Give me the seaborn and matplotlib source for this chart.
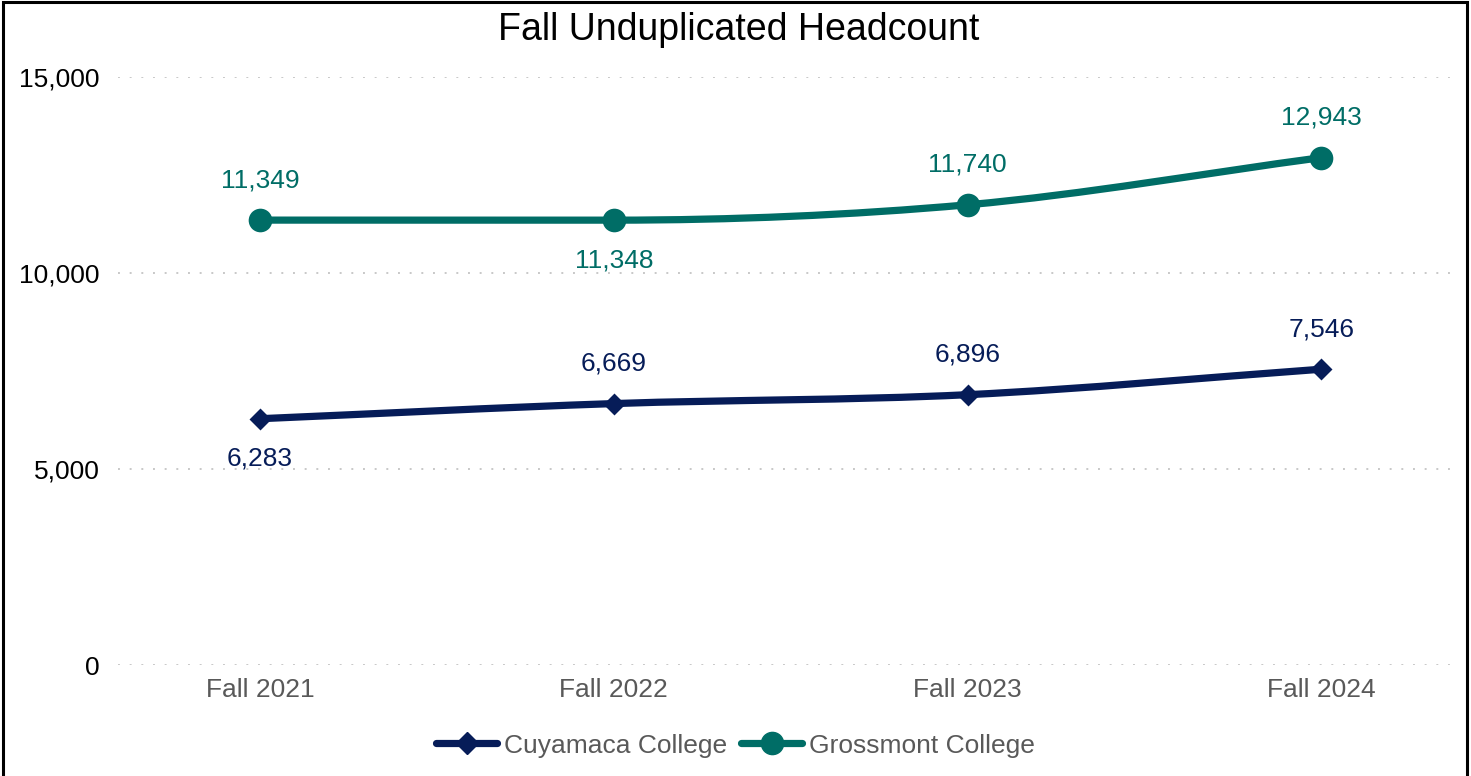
import numpy as np
import matplotlib
matplotlib.use("Agg")
import matplotlib.pyplot as plt
import seaborn as sns
from matplotlib.path import Path
from matplotlib.patches import PathPatch, Rectangle
from matplotlib.lines import Line2D
from matplotlib.ticker import FuncFormatter

# -- data --
years = ["Fall 2021", "Fall 2022", "Fall 2023", "Fall 2024"]
cuyamaca = [6283, 6669, 6896, 7546]
grossmont = [11349, 11348, 11740, 12943]
# label above (+1) or below (-1) the point
cuy_pos = [-1, 1, 1, 1]
gro_pos = [1, -1, 1, 1]

navy = "#061C58"
teal = "#006D66"
gray = "#595959"

sns.set_theme(style="white")
plt.rcParams["font.family"] = ["Liberation Sans", "DejaVu Sans"]

fig = plt.figure(figsize=(14.71, 7.76), dpi=100)
ax = fig.add_axes([0.0802, 0.1430, 0.9089, 0.7578])
xs = np.arange(len(years))


def smooth_path(x, y):
    # bezier through the points, flat where the direction changes
    x = np.asarray(x, float)
    y = np.asarray(y, float)
    n = len(x)
    d = np.diff(y)
    m = np.zeros(n)
    m[0] = d[0]
    m[-1] = d[-1]
    for i in range(1, n - 1):
        if d[i - 1] * d[i] > 0:
            m[i] = (d[i - 1] + d[i]) / 2
    verts = [(x[0], y[0])]
    codes = [Path.MOVETO]
    for i in range(n - 1):
        verts += [(x[i] + 1 / 3, y[i] + m[i] / 3),
                  (x[i + 1] - 1 / 3, y[i + 1] - m[i + 1] / 3),
                  (x[i + 1], y[i + 1])]
        codes += [Path.CURVE4] * 3
    return Path(verts, codes)


for vals, col in [(cuyamaca, navy), (grossmont, teal)]:
    ax.add_patch(PathPatch(smooth_path(xs, vals), facecolor="none",
                           edgecolor=col, lw=5.2, capstyle="round", zorder=3))

sns.scatterplot(x=xs, y=cuyamaca, marker="D", s=125, color=navy,
                edgecolor=navy, linewidth=0, ax=ax, zorder=4)
sns.scatterplot(x=xs, y=grossmont, marker="o", s=290, color=teal,
                edgecolor=teal, linewidth=0, ax=ax, zorder=4)

off = 1020
fs = 19
for i in range(len(years)):
    ax.text(xs[i], cuyamaca[i] + cuy_pos[i] * off, f"{cuyamaca[i]:,}",
            ha="center", va="center", fontsize=fs, color=navy)
    ax.text(xs[i], grossmont[i] + gro_pos[i] * off, f"{grossmont[i]:,}",
            ha="center", va="center", fontsize=fs, color=teal)

ax.set_xlim(-0.4015, 3.378)
ax.set_ylim(0, 15000)
ax.set_yticks([0, 5000, 10000, 15000])
ax.yaxis.set_major_formatter(FuncFormatter(lambda v, p: f"{int(v):,}"))
ax.set_xticks(xs)
ax.set_xticklabels(years)
ax.tick_params(axis="y", length=0, pad=13, labelsize=fs, labelcolor="black")
ax.tick_params(axis="x", length=0, pad=9, labelsize=fs, labelcolor=gray)
ax.grid(axis="y", color="#C8C8C8", linestyle=(0, (1, 5)), linewidth=1.4)
ax.grid(axis="x", visible=False)
for s in ax.spines.values():
    s.set_visible(False)
ax.set_xlabel("")
ax.set_ylabel("")

fig.text(0.502, 0.961, "Fall Unduplicated Headcount", ha="center",
         va="center", fontsize=27, color="black")

handles = [
    Line2D([], [], color=navy, lw=5.2, marker="D", markersize=11),
    Line2D([], [], color=teal, lw=5.2, marker="o", markersize=16),
]
leg = fig.legend(handles, ["Cuyamaca College", "Grossmont College"],
                 loc="center", bbox_to_anchor=(0.5, 0.039), ncol=2,
                 frameon=False, fontsize=fs, handlelength=2.3,
                 handletextpad=0.25, columnspacing=0.55)
for t in leg.get_texts():
    t.set_color(gray)

# outer border
fig.patches.append(Rectangle((0.002, -0.01), 0.995, 1.008, transform=fig.transFigure,
                             fill=False, edgecolor="black", lw=2.2, zorder=10))

fig.savefig("out.png", dpi=100)
